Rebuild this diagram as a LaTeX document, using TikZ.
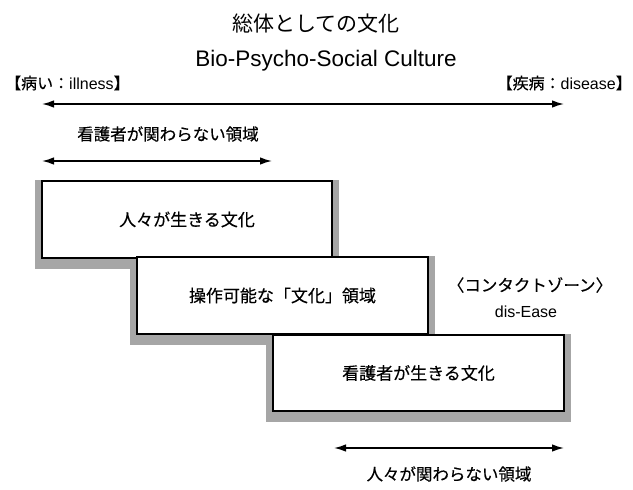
\documentclass[tikz,border=0pt]{standalone}
\usepackage{fontspec}
\setmainfont{Liberation Sans}
\newfontfamily\jp[FakeBold=0.35]{Noto Sans CJK JP}
\newfontfamily\jpt{Noto Sans CJK JP}
\usetikzlibrary{arrows.meta,backgrounds}
\begin{document}
\begin{tikzpicture}[x=1pt,y=-1pt,
  dbl/.style={{Latex[length=12pt,width=7.5pt]}-{Latex[length=12pt,width=7.5pt]}, line width=1.5pt},
  cbox/.style={draw, line width=1.4pt, fill=white, minimum width=291pt, minimum height=77pt, inner sep=0pt, font=\jp\fontsize{17}{20}\selectfont},
  boxshadow/.style={fill=black!35},
  lbl/.style={inner sep=0pt, font=\jp\fontsize{16.5}{20}\selectfont},
  latin/.style={inner sep=0pt, font=\fontsize{16}{19}\selectfont}]
\useasboundingbox (0,0) rectangle (633,490);

\node[inner sep=0pt, font=\jpt\fontsize{21}{24}\selectfont] (title) at (316,24) {総体としての文化};
\node[inner sep=0pt, font=\fontsize{22.5}{27}\selectfont] (bio) at (326,61) {Bio-Psycho-Social Culture};
\node[latin, anchor=west] (ill) at (5,83) {{\jp 【病い：}illness{\jp 】}};
\node[latin, anchor=east] (dis) at (632,83) {{\jp 【疾病：}disease{\jp 】}};

\coordinate (a1l) at (42,104);
\coordinate (a1r) at (564,104);
\draw[dbl] (a1l) -- (a1r);

\node[lbl] (nk) at (168,134) {看護者が関わらない領域};
\coordinate (a2l) at (42,161);
\coordinate (a2r) at (272,161);
\draw[dbl] (a2l) -- (a2r);

\node[cbox, minimum width=290pt] (b1) at (187,219.5) {人々が生きる文化};
\node[cbox] (b2) at (282.5,295.5) {操作可能な「文化」領域};
\node[cbox, minimum width=291pt, minimum height=76pt] (b3) at (418.5,373) {看護者が生きる文化};

\begin{scope}[on background layer]
\foreach \b in {b1,b2,b3}{
  \fill[boxshadow] ([xshift=-6pt]\b.north west) rectangle ([xshift=6pt,yshift=-10pt]\b.south east);
}
\end{scope}

\node[lbl] (cz) at (530,285) {〈コンタクトゾーン〉};
\node[latin] (de) at (526,312) {dis-Ease};

\coordinate (a3l) at (334,448);
\coordinate (a3r) at (564,448);
\draw[dbl] (a3l) -- (a3r);
\node[lbl] (nh) at (449,474) {人々が関わらない領域};
\end{tikzpicture}
\end{document}
